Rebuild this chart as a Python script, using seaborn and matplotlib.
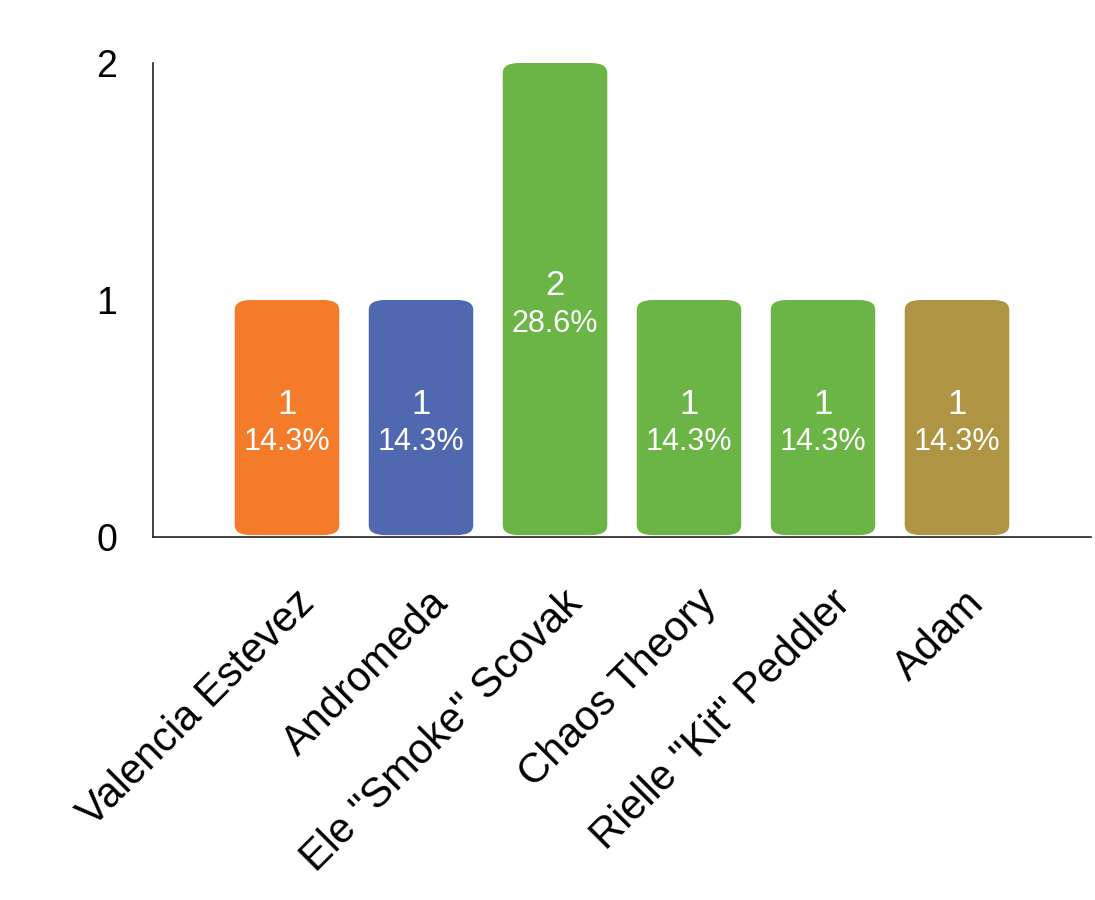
import matplotlib
matplotlib.use("Agg")
import matplotlib.pyplot as plt
import seaborn as sns
import pandas as pd
from matplotlib.patches import FancyBboxPatch

categories = ['Valencia Estevez', 'Andromeda', 'Ele "Smoke" Scovak', 'Chaos Theory',
              'Rielle "Kit" Peddler', 'Adam']
values = [1, 1, 2, 1, 1, 1]
percents = ['14.3%', '14.3%', '28.6%', '14.3%', '14.3%', '14.3%']
colors = ['#F47B2A', '#5068B0', '#6BB446', '#6BB446', '#6BB446', '#AE9443']
yticks = [0, 1, 2]

sns.set_theme(style="white")
plt.rcParams['font.family'] = ['Liberation Sans', 'DejaVu Sans']

df = pd.DataFrame({"name": categories, "value": values})

fig = plt.figure(figsize=(10.95, 9), dpi=100)
ax = fig.add_axes([153/1095, 1 - 537/900, (1091-153)/1095, (537-63)/900])
sns.barplot(data=df, x="name", y="value", hue="name", palette=colors,
            width=0.78, legend=False, ax=ax, saturation=1)

# replace bars with rounded ones
for p, c in zip(list(ax.patches), colors):
    x, y = p.get_x(), p.get_y()
    w, h = p.get_width(), p.get_height()
    p.set_visible(False)
    rb = FancyBboxPatch((x, y + 0.008), w, h - 0.008,
                        boxstyle="round,pad=0,rounding_size=0.12",
                        mutation_aspect=0.07 / 0.12 * 0.6,
                        facecolor=c, edgecolor='none', zorder=2)
    ax.add_patch(rb)

for i, (v, pct) in enumerate(zip(values, percents)):
    mid = v / 2
    ax.text(i, mid + 0.02, str(v), ha='center', va='baseline', color='white', fontsize=25)
    ax.text(i, mid - 0.135, pct, ha='center', va='baseline', color='white', fontsize=22)

ax.set_xlim(-1, 6)
ax.set_ylim(0, 2)
ax.set_yticks(yticks)
ax.set_yticklabels([str(t) for t in yticks], fontsize=27, color='black')
ax.tick_params(axis='y', length=0, pad=26)
ax.tick_params(axis='x', length=0, pad=33)
ax.set_xticks(range(len(categories)))
ax.set_xticklabels(categories, rotation=45, ha='right', rotation_mode='anchor',
                   fontsize=30, color='black')
for lab in ax.get_xticklabels():
    lab.set_transform(lab.get_transform() + matplotlib.transforms.ScaledTranslation(0.07, 0, fig.dpi_scale_trans))
ax.set_xlabel("")
ax.set_ylabel("")
for s in ['top', 'right']:
    ax.spines[s].set_visible(False)
for s in ['left', 'bottom']:
    ax.spines[s].set_color('#222222')
    ax.spines[s].set_linewidth(1.2)

fig.savefig("out.png", dpi=100)
